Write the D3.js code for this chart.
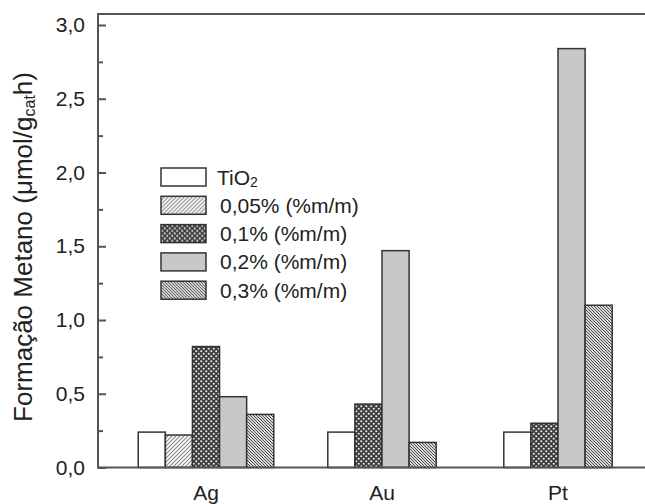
<!DOCTYPE html>
<html>
<head>
<meta charset="utf-8">
<script src="https://cdn.jsdelivr.net/npm/d3@7"></script>
<style>
  body { margin: 0; background: #fff; }
  text { font-family: Arial, "Liberation Sans", sans-serif; fill: #222; }
</style>
</head>
<body>
<div class="myBox"></div>
<script>

var width = 645;
var height = 504;

// data
var categories = ["Ag", "Au", "Pt"];
var seriesNames = ["TiO2", "0,05% (%m/m)", "0,1% (%m/m)", "0,2% (%m/m)", "0,3% (%m/m)"];
var tio2   = [0.24, 0.24, 0.24];
var pct005 = [0.22, null, null];
var pct01  = [0.82, 0.43, 0.30];
var pct02  = [0.48, 1.47, 2.84];
var pct03  = [0.36, 0.17, 1.10];
var yTicks = [0, 0.5, 1.0, 1.5, 2.0, 2.5, 3.0];
var yMinorTicks = [0.25, 0.75, 1.25, 1.75, 2.25, 2.75];

var seriesValues = [tio2, pct005, pct01, pct02, pct03];
var fills = ["#fff", "url(#hatchFwd)", "url(#dots)", "#c8c8c8", "url(#hatchBack)"];

var plotLeft = 98, plotTop = 14, plotBottom = 467.5;

var svg = d3.select(".myBox")
  .append("svg")
  .attr("width", width)
  .attr("height", height);

// patterns
var defs = svg.append("defs");

var p1 = defs.append("pattern").attr("id", "hatchFwd")
  .attr("patternUnits", "userSpaceOnUse").attr("width", 4).attr("height", 4);
p1.append("rect").attr("width", 4).attr("height", 4).attr("fill", "#fff");
p1.append("path").attr("d", "M-1,1 l2,-2 M0,4 l4,-4 M3,5 l2,-2")
  .attr("stroke", "#8a8a8a").attr("stroke-width", 1.2);

var p2 = defs.append("pattern").attr("id", "dots")
  .attr("patternUnits", "userSpaceOnUse").attr("width", 5).attr("height", 5);
p2.append("rect").attr("width", 5).attr("height", 5).attr("fill", "#3c3c3c");
p2.append("circle").attr("cx", 1.25).attr("cy", 1.25).attr("r", 1.1).attr("fill", "#e6e6e6");
p2.append("circle").attr("cx", 3.75).attr("cy", 3.75).attr("r", 1.1).attr("fill", "#e6e6e6");

var p3 = defs.append("pattern").attr("id", "hatchBack")
  .attr("patternUnits", "userSpaceOnUse").attr("width", 3).attr("height", 3);
p3.append("rect").attr("width", 3).attr("height", 3).attr("fill", "#d8d8d8");
p3.append("path").attr("d", "M-1,2 l2,2 M0,0 l3,3 M2,-1 l2,2")
  .attr("stroke", "#505050").attr("stroke-width", 1);

// scales
var x = d3.scalePoint()
  .domain(categories)
  .range([206, 558]);

var barW = x.step() * 0.154;

var y = d3.scaleLinear()
  .domain([0, 3])
  .range([plotBottom, 25]);

// bars
var groups = svg.selectAll("g.group")
  .data(categories)
  .enter().append("g")
  .attr("class", "group");

groups.each(function(cat, ci) {
  var present = [];
  seriesValues.forEach(function(s, si) {
    if (s[ci] != null) present.push({ series: si, value: s[ci] });
  });
  var inner = d3.scaleBand()
    .domain(present.map(function(d) { return d.series; }))
    .range([x(cat) - barW * present.length / 2, x(cat) + barW * present.length / 2]);

  d3.select(this).selectAll("rect")
    .data(present)
    .enter().append("rect")
    .attr("x", function(d) { return inner(d.series); })
    .attr("y", function(d) { return y(d.value); })
    .attr("width", inner.bandwidth())
    .attr("height", function(d) { return y(0) - y(d.value); })
    .attr("fill", function(d) { return fills[d.series]; })
    .attr("stroke", "#333")
    .attr("stroke-width", 1.5);
});

// frame (no right side, it is cut off in the reference)
svg.append("path")
  .attr("d", "M" + width + "," + plotTop + " H" + plotLeft + " V" + plotBottom + " H" + width)
  .attr("fill", "none")
  .attr("stroke", "#555")
  .attr("stroke-width", 2);

// y axis
var yAxis = svg.append("g")
  .attr("transform", "translate(" + plotLeft + ",0)")
  .call(d3.axisLeft(y)
    .tickValues(yTicks)
    .tickSize(-8)
    .tickPadding(13)
    .tickFormat(function(d) { return d3.format(".1f")(d).replace(".", ","); }));
yAxis.select(".domain").remove();
yAxis.selectAll("line").attr("stroke", "#555").attr("stroke-width", 2);
yAxis.selectAll("text")
  .style("font-family", "Arial, 'Liberation Sans', sans-serif")
  .style("font-size", "21px")
  .attr("fill", "#222");

var yMinor = svg.append("g")
  .attr("transform", "translate(" + plotLeft + ",0)")
  .call(d3.axisLeft(y).tickValues(yMinorTicks).tickSize(-5).tickFormat(""));
yMinor.select(".domain").remove();
yMinor.selectAll("line").attr("stroke", "#555").attr("stroke-width", 2);

// category labels
svg.selectAll("text.cat")
  .data(categories)
  .enter().append("text")
  .attr("class", "cat")
  .attr("x", function(d) { return x(d); })
  .attr("y", 500)
  .attr("text-anchor", "middle")
  .style("font-size", "21px")
  .text(function(d) { return d; });

// y label
var ylab = svg.append("text")
  .attr("transform", "translate(32,247) rotate(-90)")
  .attr("text-anchor", "middle")
  .style("font-size", "26px");
ylab.append("tspan").text("Formação Metano (μmol/g");
ylab.append("tspan").attr("baseline-shift", "-3").style("font-size", "16px").text("cat");
ylab.append("tspan").text("h)");

// legend
var legend = svg.selectAll("g.legend")
  .data(seriesNames)
  .enter().append("g")
  .attr("class", "legend")
  .attr("transform", function(d, i) { return "translate(161," + (168 + i * 28.3) + ")"; });

legend.append("rect")
  .attr("width", 45)
  .attr("height", 18)
  .attr("fill", function(d, i) { return fills[i]; })
  .attr("stroke", "#333")
  .attr("stroke-width", 1.5);

legend.each(function(d, i) {
  var t = d3.select(this).append("text")
    .attr("x", i === 0 ? 56 : 59)
    .attr("y", 9)
    .attr("dy", "0.36em")
    .style("font-size", "21px");
  if (i === 0) {
    t.append("tspan").text("TiO");
    t.append("tspan").attr("baseline-shift", "-2").style("font-size", "14px").text("2");
  } else {
    t.text(d);
  }
});

</script>
</body>
</html>
